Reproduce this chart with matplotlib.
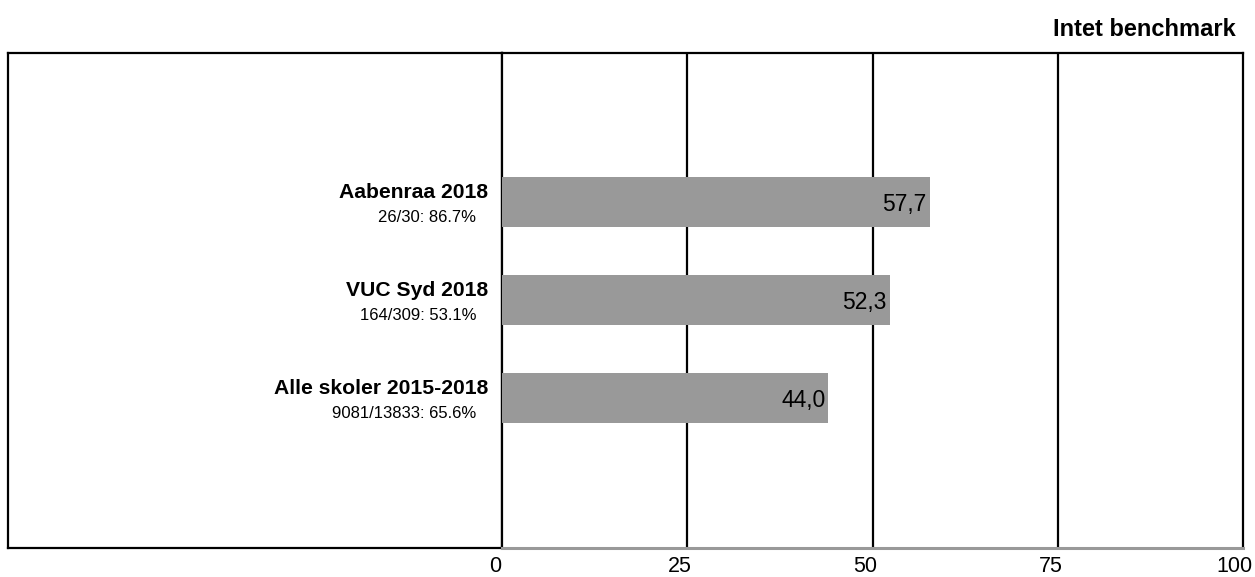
import matplotlib
matplotlib.use("Agg")
import matplotlib.pyplot as plt
from matplotlib.transforms import ScaledTranslation

plt.rcParams['font.family'] = ['Liberation Sans', 'DejaVu Sans']

# Data
names = ['Aabenraa 2018', 'VUC Syd 2018', 'Alle skoler 2015-2018']
subs = ['26/30: 86.7%', '164/309: 53.1%', '9081/13833: 65.6%']
values = [57.7, 52.3, 44.0]
xticks = [0, 25, 50, 75, 100]
title = 'Intet benchmark'

W, H = 1255, 577
fig = plt.figure(figsize=(W / 100, H / 100), dpi=100)

top_px, bot_px = 53, 548
left_px, ax_left_px, ax_right_px = 8, 502, 1243

# left frame around the labels
box = fig.add_axes([left_px / W, 1 - bot_px / H, (ax_left_px - left_px) / W,
                    (bot_px - top_px) / H])
box.set_xticks([])
box.set_yticks([])
for s in box.spines.values():
    s.set_linewidth(1.6)
    s.set_color('black')

ax = fig.add_axes([ax_left_px / W, 1 - bot_px / H, (ax_right_px - ax_left_px) / W,
                   (bot_px - top_px) / H])
ypos = list(range(len(values)))
ax.barh(ypos, values, height=0.51, color='#999999', zorder=3)
ax.set_xlim(0, 100)
ax.set_ylim(len(values) - 1 + 1.53, -1.52)
ax.set_yticks([])
ax.set_xticks(xticks)
ax.set_xticklabels([str(t) for t in xticks], fontsize=15.5)
ax.tick_params(axis='x', length=0, pad=6)
labels = ax.get_xticklabels()
for lab in labels:
    lab.set_transform(lab.get_transform() + ScaledTranslation(-7 / 100, 0, fig.dpi_scale_trans))
labels[-1].set_horizontalalignment('right')
labels[-1].set_transform(labels[-1].get_transform() + ScaledTranslation(17 / 100, 0, fig.dpi_scale_trans))

for t in xticks[1:-1]:
    ax.axvline(t, color='black', lw=1.6, zorder=2)
for k in ['top', 'right', 'left']:
    ax.spines[k].set_linewidth(1.6)
    ax.spines[k].set_color('black')
ax.spines['bottom'].set_color('#999999')
ax.spines['bottom'].set_linewidth(2.2)

for y, n, s, v in zip(ypos, names, subs, values):
    ax.annotate(n, xy=(0, y), xytext=(-10, 3), textcoords='offset points',
                ha='right', va='baseline', fontsize=15.2, fontweight='bold',
                annotation_clip=False)
    ax.annotate(s, xy=(0, y), xytext=(-18.5, -14.4), textcoords='offset points',
                ha='right', va='baseline', fontsize=12, annotation_clip=False)
    ax.annotate(f'{v:.1f}'.replace('.', ','), xy=(v, y), xytext=(-2, -6.5),
                textcoords='offset points', ha='right', va='baseline',
                fontsize=16.5, zorder=4)

fig.text(1236 / W, 1 - 30 / H, title, ha='right', va='center',
         fontsize=17, fontweight='bold')

fig.savefig('out.png', dpi=100)
